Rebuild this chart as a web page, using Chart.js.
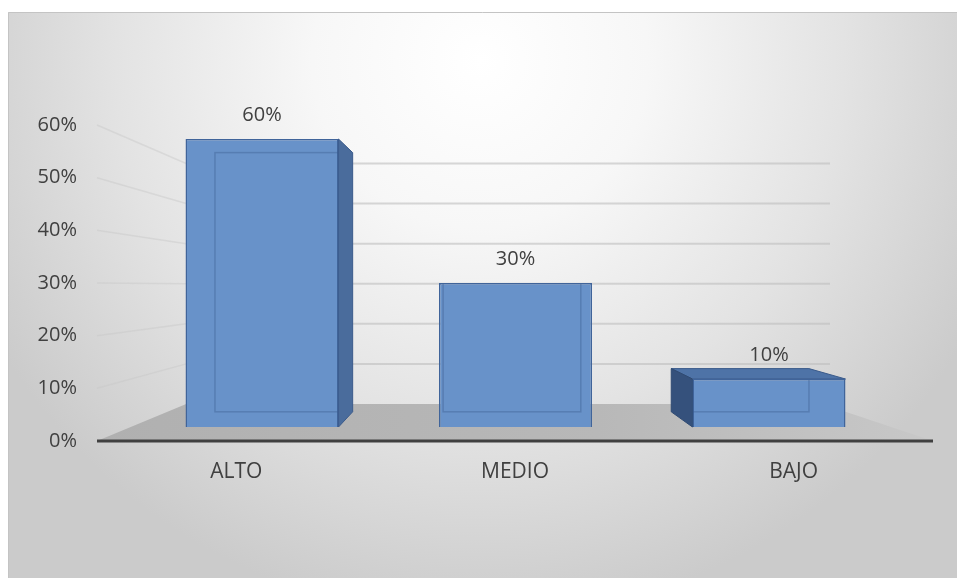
<!DOCTYPE html>
<html>
<head>
<meta charset="utf-8">
<script src="https://cdn.jsdelivr.net/npm/chart.js@4.4.1/dist/chart.umd.min.js"></script>
<style>
  html, body { margin: 0; padding: 0; background: #fff; }
  #wrap { width: 957px; height: 578px; }
</style>
</head>
<body>
<div id="wrap"><canvas id="chart" width="957" height="578"></canvas></div>
<script>
// data
const categories = ['ALTO', 'MEDIO', 'BAJO'];
const values = [60, 30, 10];          // percent
const tickMax = 60;
const tickStep = 10;

// fake 3d look (excel style)
const VP = { x: 480, y: 275 };       // vanishing point for the boxes
const BOX_DEPTH = 0.1;
const WALL_VP = { x: 470, y: 286 };  // for floor + back wall
const WALL_DEPTH = 0.239;

function toward(p, vp, f) {
  return { x: p.x + f * (vp.x - p.x), y: p.y + f * (vp.y - p.y) };
}

function poly(ctx, pts, fill, stroke) {
  ctx.beginPath();
  ctx.moveTo(pts[0].x, pts[0].y);
  for (let i = 1; i < pts.length; i++) ctx.lineTo(pts[i].x, pts[i].y);
  ctx.closePath();
  if (fill) { ctx.fillStyle = fill; ctx.fill(); }
  if (stroke) { ctx.strokeStyle = stroke; ctx.lineWidth = 1; ctx.stroke(); }
}

const decor = {
  id: 'decor',
  beforeDraw(chart) {
    const ctx = chart.ctx;
    ctx.save();
    ctx.fillStyle = '#ffffff';
    ctx.fillRect(0, 0, chart.width, chart.height);
    const g = ctx.createRadialGradient(480, 60, 0, 480, 60, 560);
    g.addColorStop(0, '#ffffff');
    g.addColorStop(0.3, '#f7f7f7');
    g.addColorStop(0.65, '#e3e3e3');
    g.addColorStop(1, '#cbcbcb');
    ctx.fillStyle = g;
    ctx.fillRect(8, 12, chart.width - 8, chart.height - 12);
    ctx.strokeStyle = '#c4c4c4';
    ctx.lineWidth = 1;
    ctx.beginPath();
    ctx.moveTo(8.5, chart.height);
    ctx.lineTo(8.5, 12.5);
    ctx.lineTo(chart.width, 12.5);
    ctx.stroke();
    ctx.restore();
  },
  beforeDatasetsDraw(chart) {
    const ctx = chart.ctx;
    const a = chart.chartArea;
    const ys = chart.scales.y;
    ctx.save();

    // floor
    const fl = { x: a.left, y: a.bottom };
    const fr = { x: a.right, y: a.bottom };
    const bl = toward(fl, WALL_VP, WALL_DEPTH);
    const br = toward(fr, WALL_VP, WALL_DEPTH);
    const fg = ctx.createLinearGradient(a.left, 0, a.right, 0);
    fg.addColorStop(0, '#b0b0b0');
    fg.addColorStop(0.6, '#b8b8b8');
    fg.addColorStop(1, '#c8c8c8');
    poly(ctx, [fl, fr, br, bl], fg, null);

    // gridlines on the back wall and left wall
    for (let v = tickStep; v <= tickMax; v += tickStep) {
      const yF = ys.getPixelForValue(v);
      const p0 = { x: a.left, y: yF };
      const p1 = toward(p0, WALL_VP, WALL_DEPTH);
      ctx.strokeStyle = 'rgba(200,200,200,0.45)';
      ctx.lineWidth = 1.5;
      ctx.beginPath();
      ctx.moveTo(p0.x, p0.y);
      ctx.lineTo(p1.x, p1.y);
      ctx.stroke();
      ctx.strokeStyle = 'rgba(190,190,190,0.6)';
      ctx.lineWidth = 2;
      ctx.beginPath();
      ctx.moveTo(p1.x, p1.y);
      ctx.lineTo(830, p1.y);
      ctx.stroke();
    }

    // side / top faces of the boxes
    const meta = chart.getDatasetMeta(0);
    meta.data.forEach(function(el) {
      const p = el.getProps(['x', 'y', 'base', 'width'], true);
      const x1 = p.x - p.width / 2, x2 = p.x + p.width / 2;
      const tl = { x: x1, y: p.y }, tr = { x: x2, y: p.y };
      const bl2 = { x: x1, y: p.base }, br2 = { x: x2, y: p.base };
      const btl = toward(tl, VP, BOX_DEPTH), btr = toward(tr, VP, BOX_DEPTH);
      const bbl = toward(bl2, VP, BOX_DEPTH), bbr = toward(br2, VP, BOX_DEPTH);
      if (tl.y - btl.y > 2) poly(ctx, [tl, tr, btr, btl], '#4e73a7', '#3b5b8b');
      if (btr.x - tr.x > 2) poly(ctx, [tr, btr, bbr, br2], '#4a6c9c', '#3b5b8b');
      if (tl.x - btl.x > 2) poly(ctx, [tl, btl, bbl, bl2], '#35517c', '#2f4a72');
    });
    ctx.restore();
  },
  afterDatasetsDraw(chart) {
    const ctx = chart.ctx;
    const a = chart.chartArea;
    ctx.save();
    const meta = chart.getDatasetMeta(0);
    meta.data.forEach(function(el, i) {
      const p = el.getProps(['x', 'y', 'base', 'width'], true);
      const x1 = p.x - p.width / 2, x2 = p.x + p.width / 2;
      // back edges seen through the front face
      const btl = toward({ x: x1, y: p.y }, VP, BOX_DEPTH);
      const bbr = toward({ x: x2, y: p.base }, VP, BOX_DEPTH);
      ctx.save();
      ctx.beginPath();
      ctx.rect(x1 + 1, p.y + 1, p.width - 2, p.base - p.y - 2);
      ctx.clip();
      ctx.strokeStyle = 'rgba(55,85,135,0.35)';
      ctx.lineWidth = 1.5;
      ctx.strokeRect(btl.x, btl.y, bbr.x - btl.x, bbr.y - btl.y);
      ctx.restore();
      // value label
      ctx.fillStyle = '#404040';
      ctx.font = '20px "Open Sans"';
      ctx.textAlign = 'center';
      ctx.textBaseline = 'middle';
      ctx.fillText(values[i] + '%', p.x, p.y - 24);
    });
    // axis line
    ctx.strokeStyle = '#404040';
    ctx.lineWidth = 3;
    ctx.beginPath();
    ctx.moveTo(a.left, a.bottom);
    ctx.lineTo(a.right, a.bottom);
    ctx.stroke();
    ctx.restore();
  }
};

function draw() {
  const ctx = document.getElementById('chart').getContext('2d');
  new Chart(ctx, {
    type: 'bar',
    data: {
      labels: categories,
      datasets: [{
        data: values.map(function(v, i) { return { x: i, y: v }; }),
        xAxisID: 'x2',
        yAxisID: 'y2',
        backgroundColor: '#6892c9',
        borderColor: '#40649a',
        borderWidth: 1.5,
        categoryPercentage: 1,
        barPercentage: 0.6036
      }]
    },
    options: {
      responsive: false,
      animation: false,
      layout: { padding: { top: 125, right: 24, bottom: 0, left: 0 } },
      plugins: { legend: { display: false }, tooltip: { enabled: false } },
      scales: {
        x: {
          type: 'category',
          grid: { display: false },
          border: { display: false },
          ticks: { color: '#404040', font: { family: 'Open Sans', size: 21 }, padding: 10 },
          afterFit: function(s) { s.height = 137; }
        },
        y: {
          min: 0, max: tickMax,
          grid: { display: false },
          border: { display: false },
          ticks: {
            stepSize: tickStep,
            color: '#404040',
            font: { family: 'Open Sans', size: 20 },
            padding: 12,
            callback: function(v) { return v + '%'; }
          },
          afterFit: function(s) { s.width = 97; }
        },
        // the boxes sit a bit deeper than the axis plane, so they get their own scales
        x2: {
          type: 'linear', display: false, offset: false,
          min: -0.651, max: 2.647,
          ticks: { stepSize: 1, includeBounds: false }
        },
        y2: { type: 'linear', display: false, min: -2.916, max: 62.92 }
      }
    },
    plugins: [decor]
  });
}

document.fonts.load('20px "Open Sans"').then(draw, draw);
</script>
</body>
</html>
